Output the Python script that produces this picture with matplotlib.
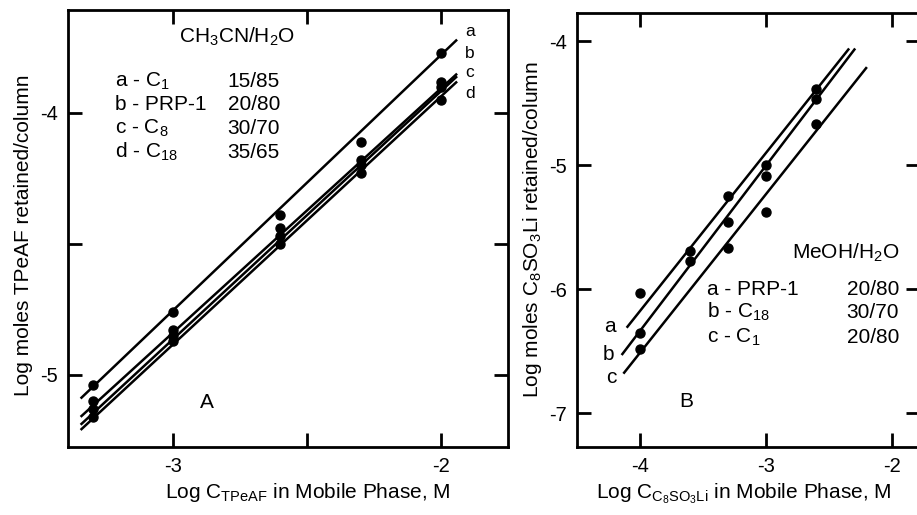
import numpy as np
import matplotlib
matplotlib.use("Agg")
import matplotlib.pyplot as plt

plt.rcParams['font.family'] = ['Liberation Sans', 'DejaVu Sans']
plt.rcParams['mathtext.default'] = 'regular'

# ---------------- Panel A data (CH3CN/H2O) ----------------
xA = [-3.30, -3.00, -2.60, -2.30, -2.00]
yA_a = [-5.04, -4.76, -4.39, -4.11, -3.77]
yA_b = [-5.10, -4.83, -4.44, -4.18, -3.88]
yA_c = [-5.13, -4.85, -4.47, -4.20, -3.90]
yA_d = [-5.16, -4.87, -4.50, -4.23, -3.95]
# hand-drawn fit lines (end values)
fitA_x = [-3.345, -1.94]
fitA_a = [-5.09, -3.72]
fitA_b = [-5.16, -3.85]
fitA_c = [-5.19, -3.86]
fitA_d = [-5.21, -3.88]
legendA_cols = ["a - C$_1$", "b - PRP-1", "c - C$_8$", "d - C$_{18}$"]
legendA_ratio = ["15/85", "20/80", "30/70", "35/65"]

# ---------------- Panel B data (MeOH/H2O) ----------------
xB = [-4.0, -3.6, -3.3, -3.0, -2.6]
yB_a = [-6.03, -5.69, -5.25, -5.00, -4.39]
yB_b = [-6.35, -5.77, -5.46, -5.09, -4.47]
yB_c = [-6.48, np.nan, -5.67, -5.38, -4.67]
fitB_a_x = [-4.106, -2.338]
fitB_a_y = [-6.31, -4.06]
fitB_b_x = [-4.146, -2.29]
fitB_b_y = [-6.53, -4.06]
fitB_c_x = [-4.132, -2.197]
fitB_c_y = [-6.68, -4.21]
legendB_cols = ["a - PRP-1", "b - C$_{18}$", "c - C$_1$"]
legendB_ratio = ["20/80", "30/70", "20/80"]

FS = 15
TFS = 14.5
fig = plt.figure(figsize=(9.17, 5.15), dpi=100)
axA = fig.add_axes([68/917, 1-447/515, (508-68)/917, (447-10)/515])
axB = fig.add_axes([576.7/917, 1-447/515, (920-576.7)/917, (447-13)/515])

def style(ax):
    for s in ax.spines.values():
        s.set_linewidth(2.0)
    ax.tick_params(direction='in', length=10, width=2, labelsize=TFS,
                   top=True, right=True, pad=7)

lw = 1.8
ms = 6.5
# Panel A
for fy in (fitA_a, fitA_b, fitA_c, fitA_d):
    axA.plot(fitA_x, fy, color='black', lw=lw, solid_capstyle='butt')
for yy in (yA_a, yA_b, yA_c, yA_d):
    axA.plot(xA, yy, 'o', color='black', ms=ms, ls='none')
axA.set_xlim(-3.392, -1.75)
axA.set_ylim(-5.275, -3.607)
axA.set_xticks([-3, -2.5, -2])
axA.set_xticklabels(['-3', '', '-2'])
axA.set_yticks([-5, -4.5, -4])
axA.set_yticklabels(['-5', '', '-4'])
style(axA)
axA.set_xlabel("Log C$_{TPeAF}$ in Mobile Phase, M", fontsize=FS, labelpad=4)
axA.set_ylabel("Log moles TPeAF retained/column", fontsize=FS, labelpad=5)
axA.xaxis.label.set_x(0.545)
axA.yaxis.label.set_y(0.485)

axA.text(-2.761, -3.733, "CH$_3$CN/H$_2$O", fontsize=FS, ha='center', va='baseline')
rowsA = [-3.901, -3.989, -4.080, -4.172]
for lab, rat, yy in zip(legendA_cols, legendA_ratio, rowsA):
    axA.text(-3.216, yy, lab, fontsize=FS, ha='left', va='baseline')
    axA.text(-2.601, yy, rat, fontsize=FS, ha='right', va='baseline')
axA.text(-2.873, -5.126, "A", fontsize=FS, ha='center', va='baseline')
for lab, yy in zip(['a', 'b', 'c', 'd'], [-3.706, -3.790, -3.863, -3.943]):
    axA.text(-1.892, yy, lab, fontsize=12.5, ha='center', va='baseline')

# Panel B
for fx, fy in ((fitB_a_x, fitB_a_y), (fitB_b_x, fitB_b_y), (fitB_c_x, fitB_c_y)):
    axB.plot(fx, fy, color='black', lw=lw, solid_capstyle='butt')
for yy in (yB_a, yB_b, yB_c):
    axB.plot(xB, yy, 'o', color='black', ms=ms, ls='none')
axB.set_xlim(-4.503, -1.775)
axB.set_ylim(-7.271, -3.774)
axB.set_xticks([-4, -3, -2])
axB.set_xticklabels(['-4', '-3', '-2'])
axB.set_yticks([-7, -6, -5, -4])
axB.set_yticklabels(['-7', '-6', '-5', '-4'])
style(axB)
axB.set_xlabel("Log C$_{C_8SO_3Li}$ in Mobile Phase, M", fontsize=FS, labelpad=4)
axB.set_ylabel("Log moles C$_8$SO$_3$Li retained/column", fontsize=FS, labelpad=4)
axB.xaxis.label.set_x(0.487)

axB.text(-2.794, -5.757, "MeOH/H$_2$O", fontsize=FS, ha='left', va='baseline')
rowsB = [-6.047, -6.232, -6.434]
for lab, rat, yy in zip(legendB_cols, legendB_ratio, rowsB):
    axB.text(-3.470, yy, lab, fontsize=FS, ha='left', va='baseline')
    axB.text(-1.941, yy, rat, fontsize=FS, ha='right', va='baseline')
axB.text(-3.629, -6.949, "B", fontsize=FS, ha='center', va='baseline')
for lab, xx, yy in zip(['a', 'b', 'c'], [-4.238, -4.254, -4.225], [-6.345, -6.57, -6.756]):
    axB.text(xx, yy, lab, fontsize=FS, ha='center', va='baseline')

fig.savefig("out.png", dpi=100)
